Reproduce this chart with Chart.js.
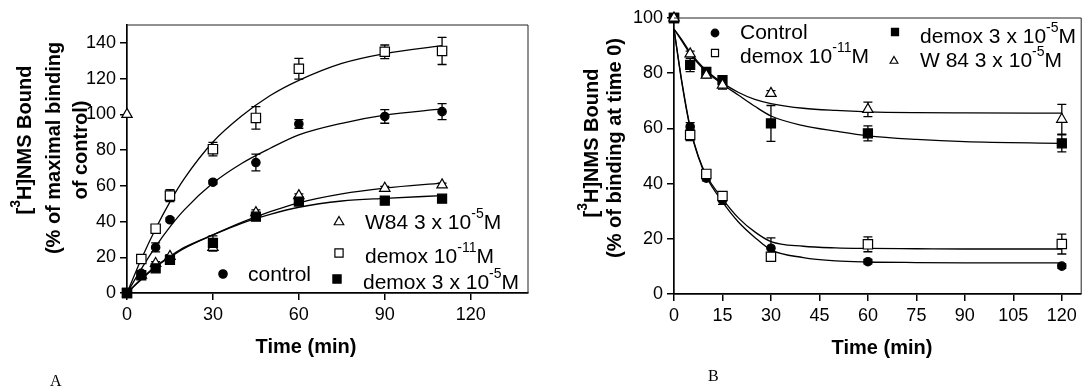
<!DOCTYPE html>
<html>
<head>
<meta charset="utf-8">
<script src="https://cdn.jsdelivr.net/npm/chart.js@4.4.1/dist/chart.umd.min.js"></script>
<style>
  html, body { margin:0; padding:0; background:#fff; }
  #wrap { position:relative; width:1089px; height:388px; overflow:hidden; }
  #cA { position:absolute; left:0; top:0; }
  #cB { position:absolute; left:545px; top:0; }
  .tag { position:absolute; font-family:'Liberation Serif','Times New Roman',serif; font-size:16px; color:#000; }
</style>
</head>
<body>
<div id="wrap">
  <canvas id="cA" width="545" height="388" style="width:545px;height:388px"></canvas>
  <canvas id="cB" width="544" height="388" style="width:544px;height:388px"></canvas>
  <div class="tag" style="left:50px;top:372px">A</div>
  <div class="tag" style="left:708px;top:367px">B</div>
</div>
<script>
// ---------- panel A : association (% of maximal binding of control) ----------
const timeA      = [0, 5, 10, 15, 30, 45, 60, 90, 110];
const ctrlA      = [0, 11, 25.5, 41, 62, 73, 94.6, 98.8, 101.5];
const ctrlAErr   = [0, 1.5, 2.5, 1, 1, 4.7, 2.4, 3.8, 4.5];
const dmxLoA     = [0, 19, 36, 54.5, 80.5, 98, 125.5, 135, 135.5];
const dmxLoAErr  = [0, 1.5, 1, 3.4, 3.8, 6.3, 5.8, 3.8, 7.6];
const w84A       = [100, 10, 16.5, 20.5, 25.5, 45, 54.5, 58.6, 60.5];
const w84AErr    = [0, 0, 1, 1, 2, 1.5, 1, 1, 1];
const dmxHiA     = [0, 9.8, 13.8, 18.6, 28, 42.7, 51.2, 51.7, 52.8];
const dmxHiAErr  = [0, 1, 1, 1.2, 4, 1.5, 1, 1, 1.5];

// fitted curves
const fitTA      = [0, 5, 10, 15, 20, 30, 40, 50, 60, 75, 90, 110];
const fitDmxLoA  = [0, 19, 36, 51, 64, 84.5, 99, 110.5, 119, 128.5, 134, 138.5];
const fitCtrlA   = [0, 13.5, 26, 37, 46.5, 61.5, 72.5, 81, 88.5, 95, 99.5, 103];
const fitW84A    = [0, 7.5, 14.5, 20, 25, 32.5, 39.5, 45.5, 50.5, 55.5, 58.7, 61.5];
const fitDmxHiA  = [0, 8, 15, 20.5, 25.5, 32.5, 39, 44, 48, 51.5, 53, 54.5];

const ticksXA = [0, 30, 60, 90, 120];
const ticksYA = [0, 20, 40, 60, 80, 100, 120, 140];

// ---------- panel B : dissociation (% of binding at time 0) ----------
const timeB      = [0, 5, 10, 15, 30, 60, 120];
const ctrlB      = [100, 60.6, 42, 34, 16.6, 11.7, 10.1];
const ctrlBErr   = [0, 1.5, 1, 1.5, 3.7, 0.8, 0.8];
const dmxLoB     = [100, 57.6, 43.5, 35.5, 13.5, 18, 18.1];
const dmxLoBErr  = [0, 2, 1, 1.5, 1.5, 2.7, 3.6];
const dmxHiB     = [100, 83, 80.5, 77.5, 61.8, 58.2, 54.6];
const dmxHiBErr  = [0, 2.4, 1, 1.5, 6.5, 2.7, 3.1];
const w84B       = [100, 87, 79.3, 75.7, 72.7, 66.9, 63.3];
const w84BErr    = [0, 1, 1, 1.5, 1, 2.6, 5.4];

const fitTB      = [0, 2.5, 5, 7.5, 10, 15, 20, 25, 30, 40, 50, 60, 75, 90, 120];
const fitCtrlB   = [96, 76, 60, 49.7, 42.5, 33.4, 26, 20.5, 16, 13.2, 12, 11.6, 11.4, 11.3, 11.3];
const fitDmxLoB  = [96, 76.5, 60.5, 50, 43, 34.5, 27.5, 22.5, 19, 17.3, 16.7, 16.5, 16.4, 16.3, 16.3];
const fitDmxHiB  = [96, 91.5, 87, 83.5, 80.5, 76, 72, 68, 64.5, 61, 59, 57.3, 56, 55.2, 54.6];
const fitW84B    = [96, 92, 87.5, 84, 81, 76.5, 73, 70.5, 69, 67.3, 66.5, 66, 65.7, 65.6, 65.5];

const ticksXB = [0, 15, 30, 45, 60, 75, 90, 105, 120];
const ticksYB = [0, 20, 40, 60, 80, 100];

const FONT = "'Liberation Sans', Arial, sans-serif";
Chart.defaults.font.family = FONT;
Chart.defaults.color = '#000';

const pts = (xs, ys)=> xs.map((x,i)=>({ x, y: ys[i] }));

function pointSet(xs, ys, err, style, fill, r){
  return {
    data: pts(xs, ys), err, showLine:false, clip:false, order:0,
    pointStyle: style, pointRadius: r, pointHoverRadius: r,
    pointBackgroundColor: fill, pointBorderColor:'#000', pointBorderWidth:1.2
  };
}
function curveSet(xs, ys){
  return {
    data: pts(xs, ys), showLine:true, clip:false, order:1,
    pointRadius:0, borderColor:'#000', borderWidth:1.3, fill:false,
    cubicInterpolationMode:'monotone'
  };
}

// rich text: parts starting with '^' are superscripts
function setFont(ctx, size, bold){ ctx.font = (bold?'bold ':'') + size + 'px ' + FONT; }
function richWidth(ctx, parts, size, bold){
  let w = 0;
  parts.forEach(p=>{
    const sup = p[0]==='^';
    setFont(ctx, sup ? Math.round(size*0.68) : size, bold);
    w += ctx.measureText(sup ? p.slice(1) : p).width;
  });
  return w;
}
function drawRich(ctx, parts, x, y, size, bold){
  let cx = x;
  ctx.textBaseline = 'middle'; ctx.textAlign = 'left';
  parts.forEach(p=>{
    const sup = p[0]==='^';
    const t = sup ? p.slice(1) : p;
    setFont(ctx, sup ? Math.round(size*0.68) : size, bold);
    ctx.fillText(t, cx, sup ? y - size*0.42 : y);
    cx += ctx.measureText(t).width;
  });
}

// error bars behind the markers
const errBars = {
  id:'errBars',
  beforeDatasetsDraw(chart){
    const { ctx, scales:{ x, y } } = chart;
    ctx.save();
    ctx.strokeStyle = '#000'; ctx.lineWidth = 1.3;
    chart.data.datasets.forEach(ds=>{
      if(!ds.err) return;
      ds.data.forEach((p,i)=>{
        const e = ds.err[i]; if(!e) return;
        const px = x.getPixelForValue(p.x);
        const y1 = y.getPixelForValue(p.y + e), y2 = y.getPixelForValue(p.y - e);
        ctx.beginPath();
        ctx.moveTo(px, y1); ctx.lineTo(px, y2);
        ctx.moveTo(px-4.5, y1); ctx.lineTo(px+4.5, y1);
        ctx.moveTo(px-4.5, y2); ctx.lineTo(px+4.5, y2);
        ctx.stroke();
      });
    });
    ctx.restore();
  }
};

// frame, axis titles and the legend
const deco = {
  id:'deco',
  afterDraw(chart, args, o){
    const { ctx, chartArea:a } = chart;
    ctx.save();
    ctx.fillStyle = '#000'; ctx.strokeStyle = '#222';
    ctx.lineWidth = 1;
    ctx.beginPath();
    ctx.moveTo(a.left, a.top); ctx.lineTo(a.right, a.top); ctx.lineTo(a.right, a.bottom);
    ctx.stroke();

    (o.titles||[]).forEach(t=>{
      const w = richWidth(ctx, t.parts, t.size, true);
      ctx.save();
      ctx.translate(t.x, t.y);
      if(t.rot) ctx.rotate(-Math.PI/2);
      drawRich(ctx, t.parts, -w/2, 0, t.size, true);
      ctx.restore();
    });

    (o.legend||[]).forEach(l=>{
      ctx.fillStyle = l.fill; ctx.strokeStyle = '#000'; ctx.lineWidth = 1.2;
      Chart.helpers.drawPoint(ctx, { pointStyle:l.style, radius:l.r, rotation:0, borderWidth:1.2 }, l.x, l.y);
      ctx.fillStyle = '#000';
      drawRich(ctx, l.text, l.tx, l.ty, o.legendSize, false);
    });
    ctx.restore();
  }
};

function axis(min, max, tickVals){
  return {
    type:'linear', min, max,
    afterBuildTicks: s => { s.ticks = tickVals.map(v=>({ value:v })); },
    grid:{ display:true, drawOnChartArea:false, drawTicks:true, tickLength:7, color:'#000', lineWidth:1.5 },
    border:{ display:true, color:'#000', width:1.7 },
    ticks:{ color:'#000', font:{ size:18 }, padding:4 }
  };
}

function build(id, o){
  const xs = axis(0, o.xMax, o.tx); xs.afterFit = s => { s.height = o.xh; };
  const ys = axis(0, o.yMax, o.ty); ys.afterFit = s => { s.width = o.yw; };
  return new Chart(document.getElementById(id), {
    type:'scatter',
    data:{ datasets:o.datasets },
    options:{
      responsive:false, animation:false, events:[],
      layout:{ padding:{ left:0, top:o.top, right:o.right, bottom:0 } },
      scales:{ x:xs, y:ys },
      plugins:{
        legend:{ display:false }, tooltip:{ enabled:false },
        deco:{ titles:o.titles, legend:o.legend, legendSize:o.legendSize }
      }
    },
    plugins:[errBars, deco]
  });
}

build('cA', {
  xMax:140, yMax:150, tx:ticksXA, ty:ticksYA, xh:95, yw:127, top:25, right:17,
  datasets:[
    curveSet(fitTA, fitDmxLoA), curveSet(fitTA, fitCtrlA),
    curveSet(fitTA, fitW84A),   curveSet(fitTA, fitDmxHiA),
    pointSet(timeA, dmxHiA, dmxHiAErr, 'rect', '#000', 6.4),
    pointSet(timeA, w84A,   w84AErr,   'triangle', '#fff', 6),
    pointSet(timeA, ctrlA,  ctrlAErr,  'circle', '#000', 4.2),
    pointSet(timeA, dmxLoA, dmxLoAErr, 'rect', '#fff', 6.6)
  ],
  titles:[
    { parts:['Time (min)'], x:306, y:347, size:20 },
    { parts:['[','^3','H]NMS Bound'], x:25, y:140, size:20, rot:true },
    { parts:['(% of maximal binding'], x:54, y:148, size:20, rot:true },
    { parts:['of control)'], x:81, y:150, size:20, rot:true }
  ],
  legendSize:21,
  legend:[
    { style:'triangle', fill:'#fff', r:5.5, x:339, y:222, text:['W84 3 x 10','^-5','M'], tx:365, ty:223 },
    { style:'rect',     fill:'#fff', r:5.8, x:339, y:253, text:['demox 10','^-11','M'], tx:365, ty:257 },
    { style:'circle',   fill:'#000', r:4.2, x:223, y:274, text:['control'], tx:248, ty:275 },
    { style:'rect',     fill:'#000', r:5.8, x:337, y:279, text:['demox 3 x 10','^-5','M'], tx:363, ty:283 }
  ]
});

build('cB', {
  xMax:126, yMax:100, tx:ticksXB, ty:ticksYB, xh:94, yw:129, top:18, right:6,
  datasets:[
    curveSet(fitTB, fitCtrlB),  curveSet(fitTB, fitDmxLoB),
    curveSet(fitTB, fitDmxHiB), curveSet(fitTB, fitW84B),
    pointSet(timeB, w84B,   w84BErr,   'triangle', '#fff', 6),
    pointSet(timeB, dmxHiB, dmxHiBErr, 'rect', '#000', 6.4),
    pointSet(timeB, dmxLoB, dmxLoBErr, 'rect', '#fff', 6.6),
    pointSet(timeB, ctrlB,  ctrlBErr,  'circle', '#000', 4.2)
  ],
  titles:[
    { parts:['Time (min)'], x:337, y:348, size:20 },
    { parts:['[','^3','H]NMS Bound'], x:47, y:143, size:20, rot:true },
    { parts:['(% of binding at time 0)'], x:70, y:148, size:20, rot:true }
  ],
  legendSize:21,
  legend:[
    { style:'circle',   fill:'#000', r:3.8, x:170, y:33, text:['Control'], tx:195, ty:33 },
    { style:'rect',     fill:'#fff', r:5,   x:170, y:53, text:['demox 10','^-11','M'], tx:195, ty:57 },
    { style:'rect',     fill:'#000', r:5,   x:350, y:32, text:['demox 3 x 10','^-5','M'], tx:375, ty:37 },
    { style:'triangle', fill:'#fff', r:4.5, x:349, y:61, text:['W 84 3 x 10','^-5','M'], tx:375, ty:61 }
  ]
});
</script>
</body>
</html>
